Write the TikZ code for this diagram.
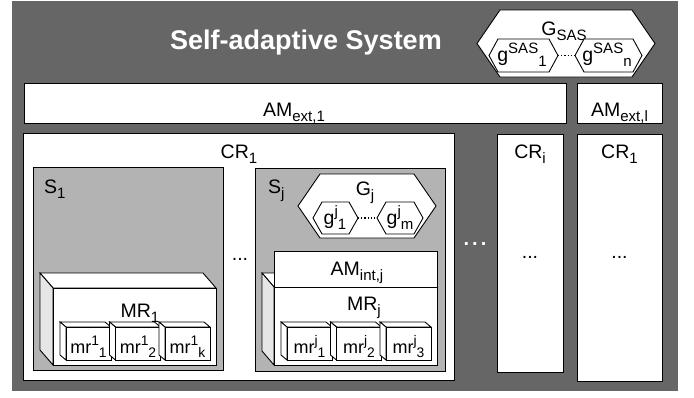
\documentclass[tikz,border=0pt]{standalone}
\usepackage{fontspec}
\setmainfont{Liberation Sans}
\definecolor{bgdark}{HTML}{666666}
\definecolor{subgray}{HTML}{B3B3B3}
\definecolor{sideface}{HTML}{E6E6E6}
% staggered sub- and superscripts, scaled from the current size
\makeatletter
\newcommand\subtxt[1]{\raisebox{-0.26em}{\fontsize{\fpeval{0.77*\f@size}}{1}\selectfont #1}}
\newcommand\suptxt[1]{\raisebox{0.4em}{\fontsize{\fpeval{0.77*\f@size}}{1}\selectfont #1}}
\makeatother
% hexagon: name, cx, cy, half width, half height, inset of the tips
\newcommand\hexagon[6]{%
  \coordinate (#1) at (#2,#3);
  \draw[hexline] (#1) ++(-#4,0) coordinate (#1-w) -- ++(#6,-#5) -- ++({2*(#4-#6)},0)
    -- ++(#6,#5) coordinate (#1-e) -- ++(-#6,#5) -- ++({-2*(#4-#6)},0) -- cycle;
}
% box with visible top and left faces: name, x, y (front top-left), w, h, dx, dy, side fill
\newcommand\prism[8]{%
  \coordinate (#1) at (#2,#3);
  \filldraw[faceline, fill=white] (#1) -- ++(-#6,-#7) -- ++(#4,0) -- ++(#6,#7) -- cycle;
  \filldraw[faceline, fill=#8] (#1) -- ++(-#6,-#7) -- ++(0,#5) -- ++(#6,#7) -- cycle;
  \filldraw[faceline, fill=white] (#1) rectangle ++(#4,#5);
}
\begin{document}
\begin{tikzpicture}[x=1pt,y=-1pt,
  faceline/.style={draw=black, line width=0.9pt, line join=miter},
  hexline/.style={draw=black, line width=0.9pt, fill=white},
  whitebox/.style={draw=black, line width=0.9pt, fill=white},
  graybox/.style={draw=black, line width=0.9pt, fill=subgray},
  lbl/.style={font=\fontsize{19.5}{22}\selectfont, inner sep=0pt},
  smalllbl/.style={font=\fontsize{18}{21}\selectfont, inner sep=0pt},
  titletext/.style={font=\fontsize{27}{31}\selectfont\bfseries, text=white, inner sep=0pt}
]
\useasboundingbox (0,0) rectangle (694,397);

% system background
\fill[bgdark] (12,1) rectangle (678,391);
\node[titletext, anchor=base] (title) at (306,49) {Self-adaptive System};

% system goals
\hexagon{gsas}{566}{43.5}{89}{33.5}{23}
\node[lbl, anchor=base] (gsaslbl) at (564,35) {G\subtxt{SAS}};
\hexagon{gs1}{523.5}{55.5}{34.5}{16.5}{9}
\hexagon{gsn}{608.5}{55.5}{33.5}{16.5}{9}
\node[lbl, anchor=base] (gs1lbl) at (522,61) {g\suptxt{SAS}\subtxt{1}};
\node[lbl, anchor=base] (gsnlbl) at (607,61) {g\suptxt{SAS}\subtxt{n}};
\draw[line width=1.2pt, dotted] (gs1-e) -- (gsn-w);

% external adaptation managers
\draw[whitebox] (24,83) rectangle (566,123);
\node[lbl, anchor=base] (amext1) at (294,116.5) {AM\subtxt{ext,1}};
\draw[whitebox] (577,83) rectangle (662,123);
\node[lbl, anchor=base] (amextl) at (619.5,116.5) {AM\subtxt{ext,l}};

% computing resource CR1
\draw[whitebox] (23,133) rectangle (454,380);
\node[lbl, anchor=base] (cr1lbl) at (239,158) {CR\subtxt{1}};

% subsystem S1
\draw[graybox] (33,167) rectangle (223,370);
\node[lbl, anchor=base west] (s1lbl) at (44,193) {S\subtxt{1}};
\prism{mr1}{53}{288}{163}{77}{13}{15}{sideface}
\node[lbl, anchor=base] (mr1lbl) at (140,317) {MR\subtxt{1}};
\prism{c11}{66}{327}{45}{33}{6}{5}{white}
\prism{c12}{115.5}{327}{45}{33}{6}{5}{white}
\prism{c13}{165}{327}{45}{33}{6}{5}{white}
\node[smalllbl, anchor=base] (c11lbl) at (88.5,353) {mr\suptxt{1}\subtxt{1}};
\node[smalllbl, anchor=base] (c12lbl) at (138,353) {mr\suptxt{1}\subtxt{2}};
\node[smalllbl, anchor=base] (c13lbl) at (187.5,353) {mr\suptxt{1}\subtxt{k}};

\node[lbl, anchor=base] (sdots) at (240,260) {...};

% subsystem Sj
\draw[graybox] (255,168) rectangle (445,371);
\node[lbl, anchor=base west] (sjlbl) at (268,193) {S\subtxt{j}};
\hexagon{gj}{367}{206}{69}{32}{22}
\node[lbl, anchor=base] (gjlbl) at (365,195) {G\subtxt{j}};
\hexagon{gj1}{335.5}{218}{22.5}{16}{9}
\hexagon{gjm}{400}{218}{23}{16}{9}
\node[lbl, anchor=base] (gj1lbl) at (335,224) {g\suptxt{j}\subtxt{1}};
\node[lbl, anchor=base] (gjmlbl) at (400,224) {g\suptxt{j}\subtxt{m}};
\draw[line width=1.2pt, dotted] (gj1-e) -- (gjm-w);

\prism{mrj}{274}{287}{163}{78}{12}{14}{sideface}
\draw[whitebox] (274,251) rectangle (437,287);
\node[lbl, anchor=base] (amint) at (357,275) {AM\subtxt{int,j}};
\node[lbl, anchor=base] (mrjlbl) at (364,310) {MR\subtxt{j}};
\prism{cj1}{287}{327}{45}{33}{6}{5}{white}
\prism{cj2}{336.5}{327}{45}{33}{6}{5}{white}
\prism{cj3}{386}{327}{45}{33}{6}{5}{white}
\node[smalllbl, anchor=base] (cj1lbl) at (309.5,353) {mr\suptxt{j}\subtxt{1}};
\node[smalllbl, anchor=base] (cj2lbl) at (359,353) {mr\suptxt{j}\subtxt{2}};
\node[smalllbl, anchor=base] (cj3lbl) at (408.5,353) {mr\suptxt{j}\subtxt{3}};

% further computing resources
\node[lbl, font=\fontsize{20}{22}\selectfont\bfseries, text=white, anchor=base] (crdots) at (475,245) {.\hspace{3pt}.\hspace{3pt}.};
\draw[whitebox] (497,134) rectangle (563,372);
\node[lbl, anchor=base] (crilbl) at (530,158) {CR\subtxt{i}};
\node[lbl, anchor=base] (cridots) at (530,258) {...};
\draw[whitebox] (577,134) rectangle (662,381);
\node[lbl, anchor=base] (crnlbl) at (619.5,158) {CR\subtxt{1}};
\node[lbl, anchor=base] (crndots) at (619.5,258) {...};
\end{tikzpicture}
\end{document}
